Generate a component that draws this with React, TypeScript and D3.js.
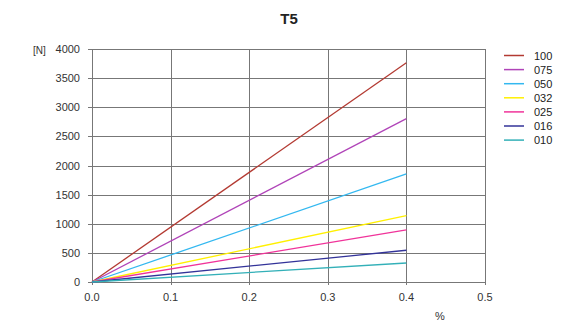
import React from "react";
import * as d3 from "d3";

const seriesNames = ["100", "075", "050", "032", "025", "016", "010"];
const seriesColors = ["#b33a32", "#b044b8", "#33b8f0", "#fff000", "#f0339a", "#333399", "#33b0b8"];
const xValues = [0, 0.4];
const endValues = [3765, 2805, 1855, 1140, 893, 545, 326];
const xTicks = [0, 0.1, 0.2, 0.3, 0.4, 0.5];
const yTicks = [0, 500, 1000, 1500, 2000, 2500, 3000, 3500, 4000];

export default function App() {
  const W = 573, H = 321;
  const left = 92, right = 485, top = 49, bottom = 282;
  const x = d3.scaleLinear().domain([0, 0.5]).range([left, right]);
  const y = d3.scaleLinear().domain([0, 4000]).range([bottom, top]);
  const line = d3.line<[number, number]>().x(d => x(d[0])).y(d => y(d[1]));
  const font = "Liberation Sans, Arial, sans-serif";
  return (
    <svg width={W} height={H} style={{ position: "absolute", left: 0, top: 0, background: "#fff" }} fontFamily={font}>
      <rect x={0} y={0} width={W} height={H} fill="#fff" />
      <text x={289} y={24} textAnchor="middle" fontSize={15} fontWeight="bold" fill="#222">T5</text>
      {yTicks.map(t => (
        <g key={"y" + t}>
          <line x1={left - 4} x2={right} y1={Math.round(y(t)) + 0.5} y2={Math.round(y(t)) + 0.5} stroke="#777" strokeWidth={1} />
          <text x={80} y={y(t) + 4} textAnchor="end" fontSize={11} fill="#333">{t}</text>
        </g>
      ))}
      {xTicks.map(t => (
        <g key={"x" + t}>
          <line y1={top} y2={bottom + 3} x1={Math.round(x(t)) + 0.5} x2={Math.round(x(t)) + 0.5} stroke="#777" strokeWidth={1} />
          <text x={x(t)} y={301} textAnchor="middle" fontSize={11} fill="#333">{t.toFixed(1)}</text>
        </g>
      ))}
      <text x={33} y={54} fontSize={10} fill="#333">[N]</text>
      <text x={440} y={320} textAnchor="middle" fontSize={11} fill="#333">%</text>
      {seriesNames.map((n, i) => (
        <path key={n} d={line(xValues.map(v => [v, (v / 0.4) * endValues[i]]) as [number, number][]) || ""}
          stroke={seriesColors[i]} strokeWidth={1.3} fill="none" />
      ))}
      {seriesNames.map((n, i) => (
        <g key={"l" + n}>
          <line x1={504} x2={524} y1={55.5 + i * 14.1} y2={55.5 + i * 14.1} stroke={seriesColors[i]} strokeWidth={1.5} />
          <text x={534} y={59.5 + i * 14.1} fontSize={11} fill="#222">{n}</text>
        </g>
      ))}
    </svg>
  );
}
